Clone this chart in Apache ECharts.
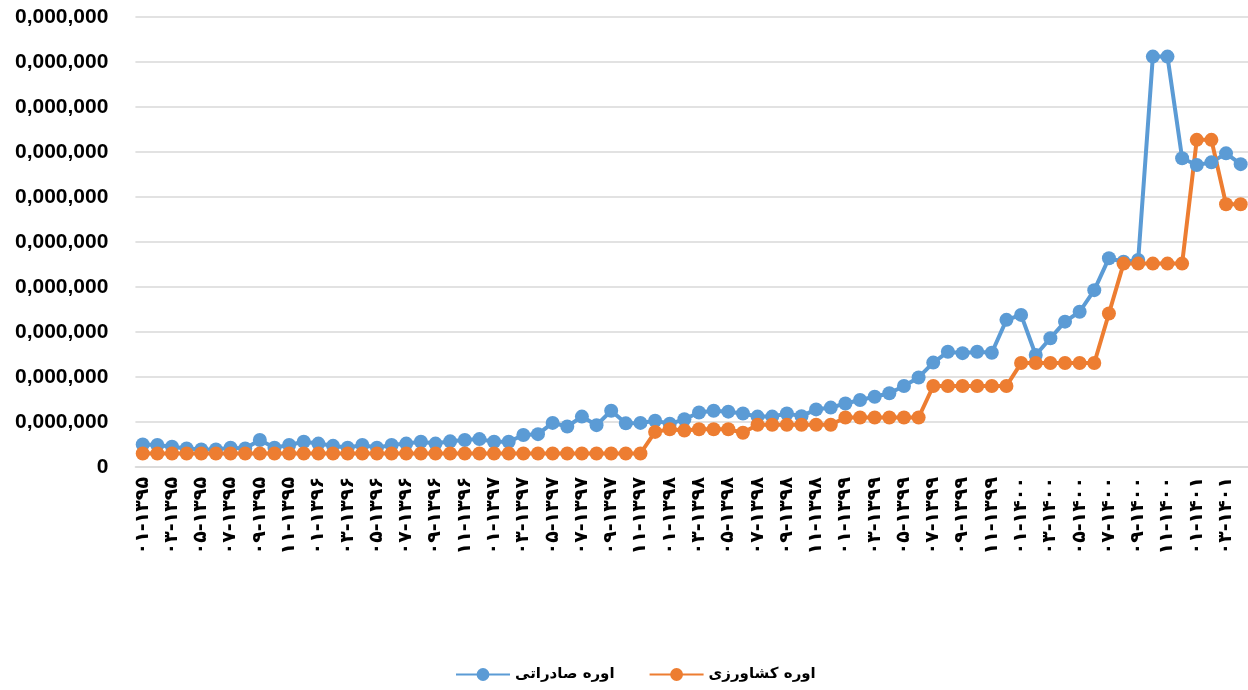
<!DOCTYPE html>
<html>
<head>
<meta charset="utf-8">
<title>اوره صادراتی و کشاورزی</title>
<script src="https://cdn.jsdelivr.net/npm/echarts@6/dist/echarts.min.js"></script>
<style>
  html, body { margin: 0; padding: 0; background: #fff; }
  #chart { width: 1248px; height: 690px; }
</style>
</head>
<body>
<div id="chart"></div>
<script>
// months 1395-01 .. 1401-04
const months = ['۰۱', '۰۲', '۰۳', '۰۴', '۰۵', '۰۶', '۰۷', '۰۸', '۰۹', '۱۰', '۱۱', '۱۲'];
const years = ['۱۳۹۵', '۱۳۹۶', '۱۳۹۷', '۱۳۹۸', '۱۳۹۹', '۱۴۰۰', '۱۴۰۱'];

const categories = [];
years.forEach(function (y) {
  months.forEach(function (m) {
    if (categories.length < 76) categories.push(m + '-' + y);
  });
});

// y tick labels as they appear (leading digits cut off in the picture)
const yTickLabels = ['0', '0,000,000', '0,000,000', '0,000,000', '0,000,000', '0,000,000',
  '0,000,000', '0,000,000', '0,000,000', '0,000,000', '0,000,000'];

// اوره صادراتی (blue), values in millions
const exportUrea = [
  5.0, 4.9, 4.5, 4.1, 3.9, 3.9, 4.3, 4.1, 6.0, 4.3, 4.9, 5.6,
  5.2, 4.7, 4.3, 4.9, 4.3, 4.9, 5.2, 5.6, 5.2, 5.7, 6.0, 6.2,
  5.6, 5.6, 7.1, 7.3, 9.8, 9.0, 11.2, 9.3, 12.5, 9.7, 9.8, 10.3,
  9.6, 10.6, 12.1, 12.5, 12.3, 11.9, 11.2, 11.2, 11.9, 11.3, 12.8, 13.2,
  14.1, 14.9, 15.6, 16.4, 18.0, 19.9, 23.2, 25.6, 25.3, 25.6, 25.4, 32.7,
  33.8, 24.9, 28.6, 32.3, 34.5, 39.3, 46.4, 45.6, 46.0, 91.2, 91.2, 68.6,
  67.1, 67.7, 69.7, 67.3
];

// اوره کشاورزی (orange), values in millions
const farmUrea = [
  3.0, 3.0, 3.0, 3.0, 3.0, 3.0, 3.0, 3.0, 3.0, 3.0, 3.0, 3.0,
  3.0, 3.0, 3.0, 3.0, 3.0, 3.0, 3.0, 3.0, 3.0, 3.0, 3.0, 3.0,
  3.0, 3.0, 3.0, 3.0, 3.0, 3.0, 3.0, 3.0, 3.0, 3.0, 3.0, 7.8,
  8.4, 8.1, 8.4, 8.4, 8.4, 7.6, 9.4, 9.4, 9.4, 9.4, 9.4, 9.4,
  11.0, 11.0, 11.0, 11.0, 11.0, 11.0, 18.0, 18.0, 18.0, 18.0, 18.0, 18.0,
  23.1, 23.1, 23.1, 23.1, 23.1, 23.1, 34.1, 45.2, 45.2, 45.2, 45.2, 45.2,
  72.7, 72.7, 58.4, 58.4
];

const seriesNames = ['اوره صادراتی', 'اوره کشاورزی'];

const chart = echarts.init(document.getElementById('chart'));

const option = {
  animation: false,
  backgroundColor: '#fff',
  color: ['#5B9BD5', '#ED7D31'],
  textStyle: { fontFamily: 'Liberation Sans, DejaVu Sans, sans-serif' },
  grid: {
    left: 135.4,
    width: 1115.3,
    top: 17,
    bottom: 223,
    containLabel: false
  },
  legend: {
    data: seriesNames,
    left: 450,
    top: 662,
    itemWidth: 54,
    itemHeight: 16,
    itemGap: 34,
    textStyle: {
      color: '#000',
      fontSize: 15,
      fontWeight: 'bold',
      fontFamily: 'DejaVu Sans, sans-serif'
    }
  },
  xAxis: {
    type: 'category',
    data: categories,
    boundaryGap: true,
    axisTick: { show: false },
    axisLine: { lineStyle: { color: '#d9d9d9', width: 1.5 } },
    axisLabel: {
      interval: 1,
      rotate: 90,
      margin: 10,
      color: '#000',
      fontSize: 19,
      fontWeight: 'bold',
      fontFamily: 'DejaVu Sans, sans-serif'
    }
  },
  yAxis: {
    type: 'value',
    min: 0,
    max: 100,
    interval: 10,
    axisLine: { show: false },
    axisTick: { show: false },
    splitLine: { lineStyle: { color: '#d9d9d9', width: 1.5 } },
    axisLabel: {
      margin: 27,
      color: '#000',
      fontSize: 21,
      fontWeight: 'bold',
      fontFamily: 'Liberation Sans, Arial, sans-serif',
      formatter: function (v) {
        return yTickLabels[Math.round(v / 10)];
      }
    }
  },
  series: [
    {
      name: seriesNames[0],
      type: 'line',
      data: exportUrea,
      symbol: 'circle',
      symbolSize: 14,
      showAllSymbol: true,
      lineStyle: { width: 4 }
    },
    {
      name: seriesNames[1],
      type: 'line',
      data: farmUrea,
      symbol: 'circle',
      symbolSize: 14,
      showAllSymbol: true,
      lineStyle: { width: 4 }
    }
  ]
};

chart.setOption(option);
</script>
</body>
</html>
